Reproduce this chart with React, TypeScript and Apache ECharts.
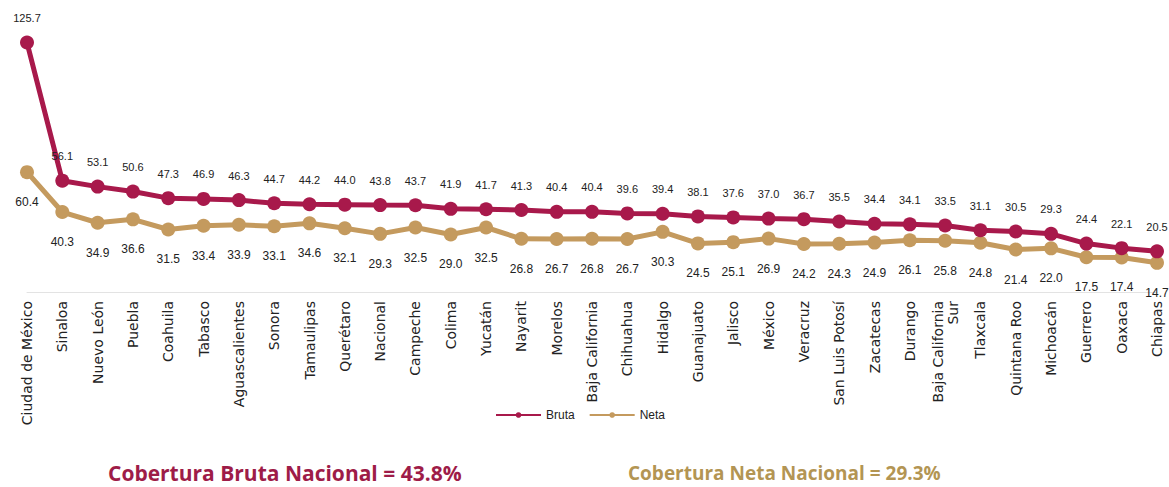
import React, { useEffect, useRef } from "react";
import * as echarts from "echarts";

const categories = [
  "Ciudad de México", "Sinaloa", "Nuevo León", "Puebla", "Coahuila", "Tabasco",
  "Aguascalientes", "Sonora", "Tamaulipas", "Querétaro", "Nacional", "Campeche",
  "Colima", "Yucatán", "Nayarit", "Morelos", "Baja California", "Chihuahua",
  "Hidalgo", "Guanajuato", "Jalisco", "México", "Veracruz", "San Luis Potosí",
  "Zacatecas", "Durango", "Baja California\nSur", "Tlaxcala", "Quintana Roo",
  "Michoacán", "Guerrero", "Oaxaca", "Chiapas",
];

const bruta = [
  125.7, 56.1, 53.1, 50.6, 47.3, 46.9, 46.3, 44.7, 44.2, 44.0, 43.8, 43.7,
  41.9, 41.7, 41.3, 40.4, 40.4, 39.6, 39.4, 38.1, 37.6, 37.0, 36.7, 35.5,
  34.4, 34.1, 33.5, 31.1, 30.5, 29.3, 24.4, 22.1, 20.5,
];

const neta = [
  60.4, 40.3, 34.9, 36.6, 31.5, 33.4, 33.9, 33.1, 34.6, 32.1, 29.3, 32.5,
  29.0, 32.5, 26.8, 26.7, 26.8, 26.7, 30.3, 24.5, 25.1, 26.9, 24.2, 24.3,
  24.9, 26.1, 25.8, 24.8, 21.4, 22.0, 17.5, 17.4, 14.7,
];

const titleBruta = "Cobertura Bruta Nacional = 43.8%";
const titleNeta = "Cobertura Neta Nacional = 29.3%";

const RED = "#A8194B";
const GOLD = "#C49A5E";

export default function App() {
  const ref = useRef<HTMLDivElement>(null);
  useEffect(() => {
    if (!ref.current) return;
    const chart = echarts.init(ref.current, undefined, { renderer: "svg" });
    const font = "'Liberation Sans', Arial, sans-serif";
    const axisFont = "'DejaVu Sans', sans-serif";
    chart.setOption({
      animation: false,
      backgroundColor: "#ffffff",
      textStyle: { fontFamily: font },
      title: [
        {
          text: titleBruta,
          left: 103,
          top: 457,
          textStyle: { color: "#9E1C48", fontSize: 21, fontWeight: "bold", fontFamily: "'Open Sans', sans-serif" },
        },
        {
          text: titleNeta,
          left: 623,
          top: 458,
          textStyle: { color: "#B39553", fontSize: 19, fontWeight: "bold", fontFamily: "'Open Sans', sans-serif" },
        },
      ],
      legend: {
        left: 490,
        top: 404,
        itemWidth: 45,
        itemHeight: 7,
        itemGap: 14,
        textStyle: { color: "#222", fontSize: 12, fontFamily: font },
        data: ["Bruta", "Neta"],
      },
      grid: { left: 27, right: 12, top: 34, height: 258 },
      xAxis: {
        type: "category",
        data: categories,
        boundaryGap: false,
        axisLine: { show: true, lineStyle: { color: "#e3e3e3", width: 1 } },
        axisTick: { show: false },
        axisLabel: {
          interval: 0,
          rotate: 90,
          margin: 9,
          color: "#222",
          fontSize: 14,
          lineHeight: 15,
          fontFamily: axisFont,
        },
      },
      yAxis: {
        type: "value",
        min: 0,
        max: 130,
        show: false,
        splitLine: { show: false },
      },
      series: [
        {
          name: "Bruta",
          type: "line",
          data: bruta,
          symbol: "circle",
          symbolSize: 14,
          lineStyle: { color: RED, width: 5 },
          itemStyle: { color: RED },
          label: {
            show: true,
            position: "top",
            distance: 12,
            color: "#222",
            fontSize: 11,
            formatter: (p: any) => Number(p.value).toFixed(1),
          },
          z: 3,
        },
        {
          name: "Neta",
          type: "line",
          data: neta,
          symbol: "circle",
          symbolSize: 14,
          lineStyle: { color: GOLD, width: 5 },
          itemStyle: { color: GOLD },
          label: {
            show: true,
            position: "bottom",
            distance: 17,
            color: "#222",
            fontSize: 12,
            formatter: (p: any) => Number(p.value).toFixed(1),
          },
          z: 2,
        },
      ],
    });
    return () => chart.dispose();
  }, []);
  return (
    <div
      ref={ref}
      style={{ position: "fixed", left: 0, top: 0, width: 1169, height: 487 }}
    />
  );
}
